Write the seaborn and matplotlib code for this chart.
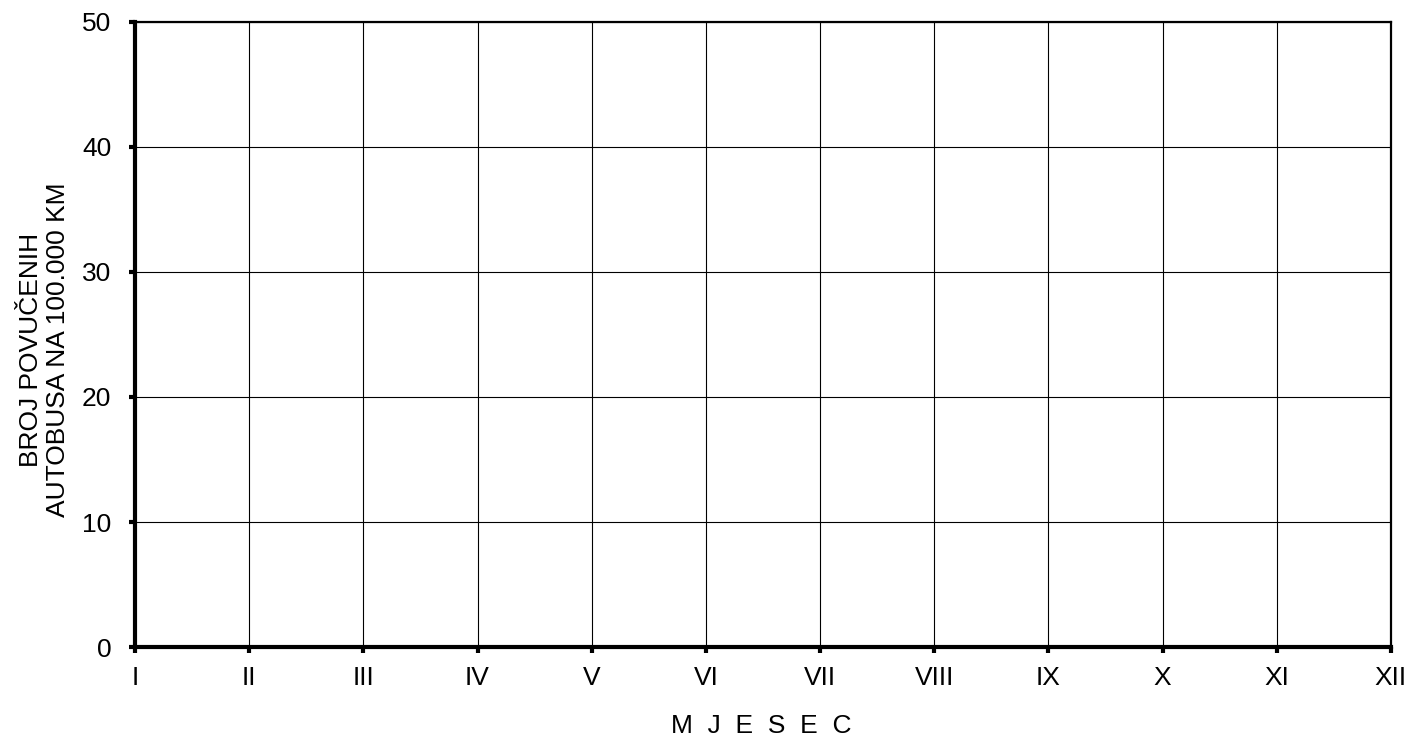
import numpy as np
import matplotlib
matplotlib.use("Agg")
import matplotlib.pyplot as plt
import seaborn as sns

# Month labels (Roman numerals) and y axis ticks
months = ["I", "II", "III", "IV", "V", "VI", "VII", "VIII", "IX", "X", "XI", "XII"]
y_ticks = [0, 10, 20, 30, 40, 50]
# The chart has no plotted series (empty form)
values = [np.nan, np.nan, np.nan, np.nan, np.nan, np.nan,
          np.nan, np.nan, np.nan, np.nan, np.nan, np.nan]

sns.set_theme(style="white")
plt.rcParams["font.family"] = ["Liberation Sans", "DejaVu Sans"]

fig = plt.figure(figsize=(14.09, 7.38), dpi=100)
ax = fig.add_axes([0.0958, 0.1233, 0.8914, 0.8469])

x = list(range(len(months)))
sns.lineplot(x=x, y=values, ax=ax, color="black")

ax.set_xlim(0, len(months) - 1)
ax.set_ylim(y_ticks[0], y_ticks[-1])
ax.set_xticks(x)
ax.set_xticklabels(months)
ax.set_yticks(y_ticks)

ax.grid(True, color="black", linewidth=0.8)
ax.set_axisbelow(True)

for side in ["left", "bottom"]:
    ax.spines[side].set_linewidth(3.0)
    ax.spines[side].set_color("black")
for side in ["top", "right"]:
    ax.spines[side].set_linewidth(1.6)
    ax.spines[side].set_color("black")

ax.tick_params(axis="both", direction="out", length=4, width=3, color="black",
               labelsize=19, labelcolor="black", bottom=True, left=True)
ax.tick_params(axis="x", pad=10)
ax.tick_params(axis="y", pad=13)

ax.set_xlabel("M  J  E  S  E  C", fontsize=19, color="black")
ax.xaxis.label.set_va("baseline")
ax.xaxis.set_label_coords(0.4985, -0.1376)

ax.set_ylabel("BROJ POVUČENIH\nAUTOBUSA NA 100.000 KM", fontsize=19,
              color="black", linespacing=1.17)
ax.yaxis.label.set_va("baseline")
ax.yaxis.set_label_coords(-0.058, 0.475)

fig.savefig("out.png", dpi=100, facecolor="white")
